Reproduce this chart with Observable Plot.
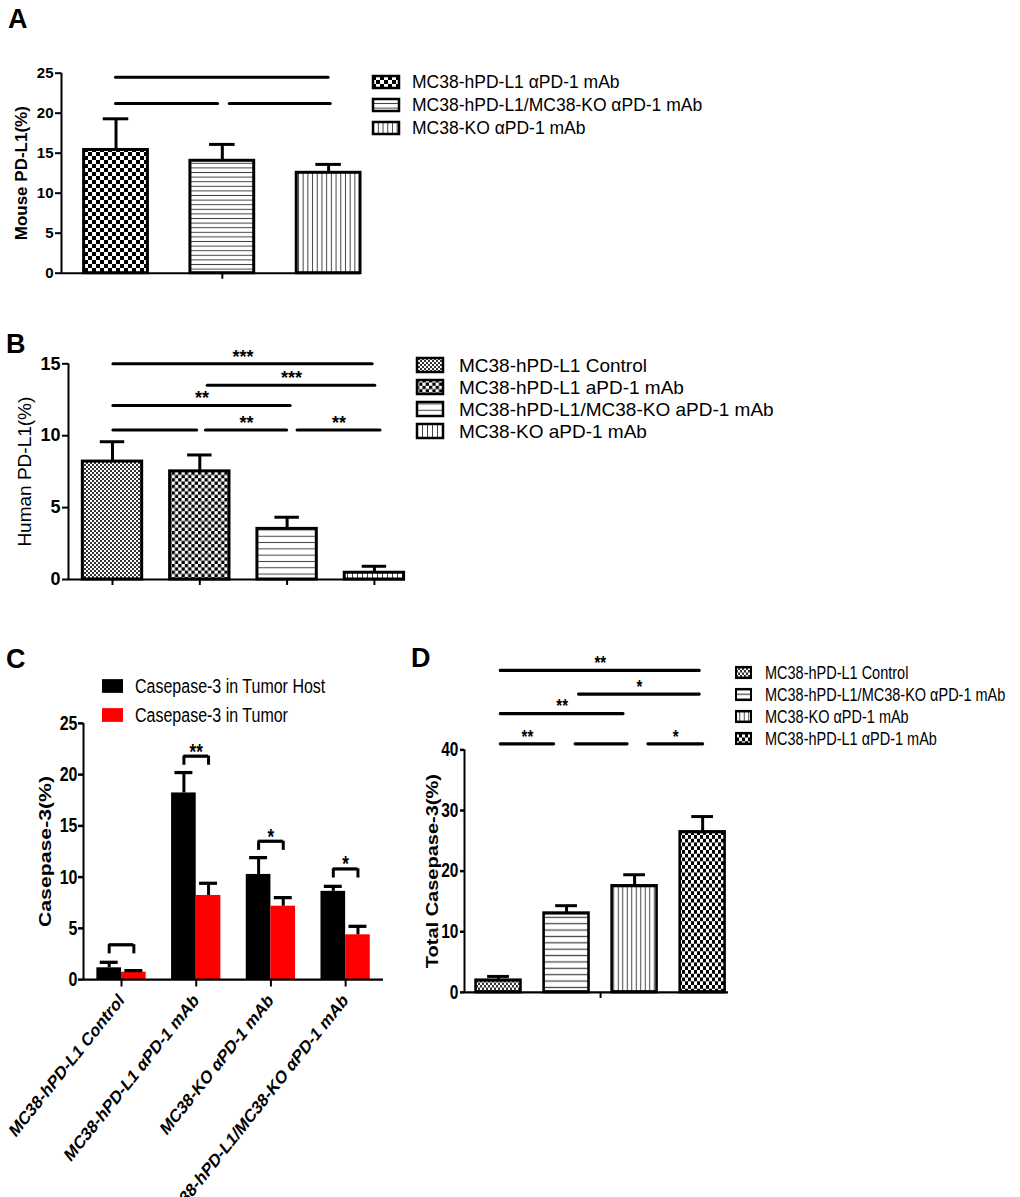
<!DOCTYPE html>
<html>
<head>
<meta charset="utf-8">
<script src="https://cdn.jsdelivr.net/npm/d3@7"></script>
<script src="https://cdn.jsdelivr.net/npm/@observablehq/plot@0.6"></script>
<style>
  html, body { margin: 0; padding: 0; background: #fff; }
  #fig { position: relative; width: 1020px; height: 1197px; overflow: hidden; background: #fff; }
</style>
</head>
<body>
<svg id="defs" width="0" height="0" style="position:absolute"><defs></defs></svg>
<div id="fig"></div>
<script>
// ================= DATA =================
// Panel A
const aGroups = ["MC38-hPD-L1 αPD-1 mAb", "MC38-hPD-L1/MC38-KO αPD-1 mAb", "MC38-KO αPD-1 mAb"];
const aMeans = [15.4, 14.05, 12.55];
const aErrors = [3.9, 2.05, 1.05];
const aYTicks = [0, 5, 10, 15, 20, 25];
const aSigFrom = [0, 0, 1];
const aSigTo = [2, 1, 2];
const aSigLevel = [24.5, 21.2, 21.2];
const aSigLabel = ["", "", ""];
const aYTitle = "Mouse PD-L1(%)";

// Panel B
const bGroups = ["MC38-hPD-L1 Control", "MC38-hPD-L1 aPD-1 mAb", "MC38-hPD-L1/MC38-KO aPD-1 mAb", "MC38-KO aPD-1 mAb"];
const bMeans = [8.2, 7.52, 3.52, 0.47];
const bErrors = [1.38, 1.14, 0.81, 0.45];
const bYTicks = [0, 5, 10, 15];
const bSigFrom = [0, 1, 0, 0, 1, 2];
const bSigTo = [3, 3, 2, 1, 2, 3];
const bSigLevel = [15, 13.5, 12.1, 10.4, 10.4, 10.4];
const bSigLabel = ["***", "***", "**", "", "**", "**"];
const bYTitle = "Human PD-L1(%)";

// Panel C
const cGroups = ["MC38-hPD-L1 Control", "MC38-hPD-L1 αPD-1 mAb", "MC38-KO αPD-1 mAb", "MC38-hPD-L1/MC38-KO αPD-1 mAb"];
const cSeries = ["Casepase-3 in Tumor Host", "Casepase-3 in Tumor"];
const cHost = [1.14, 18.2, 10.25, 8.6];
const cHostErr = [0.55, 2.0, 1.65, 0.5];
const cTumor = [0.71, 8.2, 7.15, 4.36];
const cTumorErr = [0.17, 1.2, 0.85, 0.84];
const cBracketTop = [3.4, 21.8, 13.5, 10.8];
const cBracketLabel = ["", "**", "*", "*"];
const cYTicks = [0, 5, 10, 15, 20, 25];
const cYTitle = "Casepase-3(%)";

// Panel D
const dGroups = ["MC38-hPD-L1 Control", "MC38-hPD-L1/MC38-KO αPD-1 mAb", "MC38-KO αPD-1 mAb", "MC38-hPD-L1 αPD-1 mAb"];
const dMeans = [1.93, 13.0, 17.5, 26.4];
const dErrors = [0.7, 1.3, 1.9, 2.6];
const dYTicks = [0, 10, 20, 30, 40];
const dSigFrom = [0, 1, 0, 0, 1, 2];
const dSigTo = [3, 3, 2, 1, 2, 3];
const dSigLevel = [53.1, 49.2, 46.0, 41.0, 41.0, 41.0];
const dSigLabel = ["**", "*", "**", "**", "", "*"];
const dYTitle = "Total Casepase-3(%)";

// ================= STYLE =================
const FONT = "'Liberation Sans', Arial, Helvetica, sans-serif";
const STRETCH = 1.25; // panels C and D are vertically stretched in the source figure

// patterns
const defs = d3.select("#defs defs");
function checker(id, c, col) {
  const p = defs.append("pattern").attr("id", id).attr("patternUnits", "userSpaceOnUse").attr("width", 2 * c).attr("height", 2 * c);
  p.append("rect").attr("width", 2 * c).attr("height", 2 * c).attr("fill", "#fff");
  p.append("rect").attr("width", c).attr("height", c).attr("fill", col);
  p.append("rect").attr("x", c).attr("y", c).attr("width", c).attr("height", c).attr("fill", col);
}
function hlines(id, period, col) {
  const p = defs.append("pattern").attr("id", id).attr("patternUnits", "userSpaceOnUse").attr("width", 10).attr("height", period);
  p.append("rect").attr("width", 10).attr("height", period).attr("fill", "#fff");
  p.append("rect").attr("y", period / 2 - 0.5).attr("width", 10).attr("height", 1).attr("fill", col);
}
function vlines(id, period, col) {
  const p = defs.append("pattern").attr("id", id).attr("patternUnits", "userSpaceOnUse").attr("width", period).attr("height", 10);
  p.append("rect").attr("width", period).attr("height", 10).attr("fill", "#fff");
  p.append("rect").attr("x", period / 2 - 0.5).attr("width", 1).attr("height", 10).attr("fill", col);
}
checker("chkA", 4, "#000");
checker("chkB", 3.3, "#000");
checker("chkD", 3, "#000");
checker("fineB", 2, "#333");
checker("fineD", 2, "#333");
hlines("hlA", 4.6, "#444");
hlines("hlB", 6.3, "#444");
hlines("hlD", 5.1, "#444");
vlines("vlA", 4.7, "#444");
vlines("vlB", 5, "#444");
vlines("vlD", 4.5, "#444");

const aFills = ["url(#chkA)", "url(#hlA)", "url(#vlA)"];
const bFills = ["url(#fineB)", "url(#chkB)", "url(#hlB)", "url(#vlB)"];
const dFills = ["url(#fineD)", "url(#hlD)", "url(#vlD)", "url(#chkD)"];
const cColors = ["#000000", "#ff0000"];

// line trims (layout) for the significance lines, in band units [start, end]
const aSigTrim = [[0, 0], [0, 0.04], [0.07, -0.02]];
const bSigTrim = [[0.01, 0.02], [0.09, -0.01], [0.01, -0.04], [0.01, 0.03], [0.07, 0], [0.12, -0.07]];
const dSigTrim = [[0.03, 0.04], [0.18, 0.04], [0.03, 0.16], [0.03, 0.18], [0.13, 0.1], [0.2, -0.01]];

const fig = document.getElementById("fig");

function place(svg, left, top, stretch) {
  svg.style.position = "absolute";
  svg.style.left = left + "px";
  svg.style.top = top + "px";
  svg.style.overflow = "visible";
  svg.style.maxWidth = "none";
  svg.style.background = "transparent";
  if (stretch) {
    const h = +svg.getAttribute("height");
    svg.setAttribute("height", h * stretch);
    svg.setAttribute("preserveAspectRatio", "none");
    svg.style.height = (h * stretch) + "px";
  } else {
    svg.style.height = svg.getAttribute("height") + "px";
  }
  fig.appendChild(svg);
}

function addLegend(svg, labels, fills, o) {
  const g = d3.select(svg).append("g")
    .attr("font-family", FONT).attr("font-size", o.fs).attr("font-weight", "normal")
    .attr("fill", "#000").attr("text-anchor", "start");
  labels.forEach((lab, k) => {
    const cy = o.y0 + k * o.dy;
    g.append("rect").attr("x", o.x).attr("y", cy - o.h / 2).attr("width", o.w).attr("height", o.h)
      .attr("fill", fills[k]).attr("stroke", o.sw ? "#000" : "none").attr("stroke-width", o.sw || 0);
    g.append("text").attr("x", o.tx).attr("y", cy).attr("dy", "0.35em").attr("text-anchor", "start").text(lab);
  });
}

function barPanel(c) {
  const rows = c.groups.map((g, i) => ({ i, g, v: c.means[i], e: c.errs[i], fill: c.fills[i] }));
  const sig = c.sigFrom.map((f, k) => ({
    x1: f + c.sigTrim[k][0], x2: c.sigTo[k] - c.sigTrim[k][1], y: c.sigLevel[k], label: c.sigLabel[k]
  }));
  return Plot.plot({
    width: c.width, height: c.height,
    marginLeft: c.ml, marginRight: c.mr, marginTop: c.mt, marginBottom: c.mb,
    x: { type: "linear", domain: c.xDomain, label: null },
    y: { domain: [0, c.yMax], label: null },
    color: { type: "identity" },
    style: { fontFamily: FONT, color: "#000", background: "transparent", overflow: "visible" },
    marks: [
      Plot.rect(rows, { x1: d => d.i - c.bw / 2, x2: d => d.i + c.bw / 2, y1: 0, y2: "v", fill: d => d.fill, stroke: "#000", strokeWidth: c.bsw }),
      Plot.ruleX(rows, { x: "i", y1: "v", y2: d => d.v + d.e, stroke: "#000", strokeWidth: c.esw }),
      Plot.ruleY(rows, { x1: d => d.i - c.cap, x2: d => d.i + c.cap, y: d => d.v + d.e, stroke: "#000", strokeWidth: c.csw }),
      Plot.ruleY(sig, { x1: "x1", x2: "x2", y: "y", stroke: "#000", strokeWidth: c.ssw, strokeLinecap: "round" }),
      Plot.text(sig.filter(d => d.label), { x: d => (d.x1 + d.x2) / 2, y: "y", text: "label", fontSize: c.starFs, fontWeight: "bold", dy: c.starDy }),
      Plot.ruleY([0], { stroke: "#000", strokeWidth: c.axw }),
      Plot.ruleX([c.xDomain[0]], { y1: 0, y2: c.yMax, stroke: "#000", strokeWidth: c.ayw }),
      Plot.axisY({ ticks: c.yTicks, tickSize: c.tick, tickPadding: c.tickPad, fontSize: c.tickFs, fontWeight: "bold", strokeWidth: c.ayw, label: null }),
      Plot.axisX({ ticks: c.xTicks, tickFormat: () => "", tickSize: c.xtick, strokeWidth: c.ayw, label: null }),
      Plot.text([c.title], { frameAnchor: "left", textAnchor: "middle", rotate: -90, dx: c.titleDx, text: d => d, fontSize: c.titleFs, fontWeight: c.titleW })
    ]
  });
}

// ---------- Panel A ----------
const svgA = barPanel({
  groups: aGroups, means: aMeans, errs: aErrors, fills: aFills,
  sigFrom: aSigFrom, sigTo: aSigTo, sigLevel: aSigLevel, sigLabel: aSigLabel, sigTrim: aSigTrim,
  width: 1020, height: 295, ml: 61, mr: 660, mt: 72.7, mb: 22.3,
  xDomain: [-0.513, 2.3], yMax: 25, yTicks: aYTicks, xTicks: [1],
  bw: 0.6, cap: 0.12, bsw: 3, esw: 3, csw: 3, ssw: 3, axw: 2, ayw: 2,
  tick: 6, tickPad: 2, xtick: 6, tickFs: 15, starFs: 18, starDy: -7,
  title: aYTitle, titleDx: -40, titleFs: 17, titleW: "bold"
});
addLegend(svgA, aGroups, aFills, { x: 373, w: 26, h: 12, sw: 2.5, tx: 412, y0: 82, dy: 23, fs: 17.5 });
place(svgA, 0, 0);

// ---------- Panel B ----------
const svgB = barPanel({
  groups: bGroups, means: bMeans, errs: bErrors, fills: bFills,
  sigFrom: bSigFrom, sigTo: bSigTo, sigLevel: bSigLevel, sigLabel: bSigLabel, sigTrim: bSigTrim,
  width: 1020, height: 300, ml: 68, mr: 615, mt: 63.3, mb: 21,
  xDomain: [-0.504, 3.356], yMax: 15, yTicks: bYTicks, xTicks: [0, 1, 2, 3],
  bw: 0.68, cap: 0.14, bsw: 3, esw: 3, csw: 3, ssw: 3, axw: 2, ayw: 2,
  tick: 6, tickPad: 2, xtick: 6, tickFs: 18, starFs: 18, starDy: -6.8,
  title: bYTitle, titleDx: -44, titleFs: 19, titleW: "normal"
});
addLegend(svgB, bGroups, bFills, { x: 417, w: 26, h: 14, sw: 2.5, tx: 459, y0: 65, dy: 22, fs: 19 });
place(svgB, 0, 300);

// ---------- Panel C (grouped) ----------
(function () {
  const bw = 0.33;
  const rows = [];
  cGroups.forEach((g, i) => {
    rows.push({ i, s: 0, v: cHost[i], e: cHostErr[i] });
    rows.push({ i, s: 1, v: cTumor[i], e: cTumorErr[i] });
  });
  const center = d => d.i + (d.s ? 0.5 : -0.5) * bw;
  const br = cGroups.map((g, i) => ({ i, top: cBracketTop[i], label: cBracketLabel[i] }));
  const drop = 0.9;
  const svg = Plot.plot({
    width: 400, height: 445.6,
    marginLeft: 83, marginRight: 17, marginTop: 66.2, marginBottom: 174.4,
    x: { type: "linear", domain: [-0.509, 3.507], label: null },
    y: { domain: [0, 25], label: null },
    color: { type: "identity" },
    style: { fontFamily: FONT, color: "#000", background: "transparent", overflow: "visible" },
    marks: [
      Plot.rect(rows, { x1: d => d.i + (d.s ? 0 : -bw), x2: d => d.i + (d.s ? bw : 0), y1: 0, y2: "v", fill: d => cColors[d.s] }),
      Plot.ruleX(rows, { x: center, y1: "v", y2: d => d.v + d.e, stroke: "#000", strokeWidth: 3 }),
      Plot.ruleY(rows, { x1: d => center(d) - 0.12, x2: d => center(d) + 0.12, y: d => d.v + d.e, stroke: "#000", strokeWidth: 2.6 }),
      Plot.ruleY(br, { x1: d => d.i - bw / 2, x2: d => d.i + bw / 2, y: "top", stroke: "#000", strokeWidth: 2.6 }),
      Plot.ruleX(br, { x: d => d.i - bw / 2, y1: d => d.top - drop, y2: "top", stroke: "#000", strokeWidth: 3 }),
      Plot.ruleX(br, { x: d => d.i + bw / 2, y1: d => d.top - drop, y2: "top", stroke: "#000", strokeWidth: 3 }),
      Plot.text(br.filter(d => d.label), { x: "i", y: "top", text: "label", fontSize: 17, fontWeight: "bold", dy: -3.5 }),
      Plot.ruleY([0], { stroke: "#000", strokeWidth: 1.8 }),
      Plot.ruleX([-0.509], { y1: 0, y2: 25, stroke: "#000", strokeWidth: 2 }),
      Plot.axisY({ ticks: cYTicks, tickSize: 5, tickPadding: 1, fontSize: 16, fontWeight: "bold", strokeWidth: 2, label: null }),
      Plot.axisX({ ticks: [0, 1, 2, 3], tickFormat: i => cGroups[i], tickRotate: -45, tickSize: 6, tickPadding: 8,
        fontSize: 15, fontWeight: "bold", strokeWidth: 2, label: null }),
      Plot.text([cYTitle], { frameAnchor: "left", textAnchor: "middle", rotate: -90, dx: -38, text: d => d, fontSize: 17, fontWeight: "bold" })
    ]
  });
  addLegend(svg, cSeries, cColors, { x: 102, w: 21, h: 11, sw: 0, tx: 135, y0: 36.8, dy: 23.2, fs: 16 });
  place(svg, 0, 640, STRETCH);
})();

// ---------- Panel D ----------
const svgD = barPanel({
  groups: dGroups, means: dMeans, errs: dErrors, fills: dFills,
  sigFrom: dSigFrom, sigTo: dSigTo, sigLevel: dSigLevel, sigLabel: dSigLabel, sigTrim: dSigTrim,
  width: 620, height: 445.6, ml: 64, mr: 292, mt: 87.4, mb: 164.2,
  xDomain: [-0.5, 3.38], yMax: 40, yTicks: dYTicks, xTicks: [1.5],
  bw: 0.66, cap: 0.16, bsw: 2.6, esw: 3, csw: 2.4, ssw: 2.6, axw: 1.8, ayw: 2,
  tick: 4, tickPad: 2, xtick: 5, tickFs: 15.5, starFs: 15, starDy: -5.8,
  title: dYTitle, titleDx: -31.5, titleFs: 16, titleW: "bold"
});
addLegend(svgD, dGroups, dFills, { x: 336, w: 15, h: 8.5, sw: 2, tx: 365, y0: 26, dy: 17.6, fs: 14.5 });
place(svgD, 400, 640, STRETCH);

// ---------- Panel letters ----------
const lt = d3.select(fig).append("svg")
  .attr("width", 1020).attr("height", 1197)
  .style("position", "absolute").style("left", 0).style("top", 0).style("pointer-events", "none")
  .attr("font-family", FONT).attr("font-weight", "bold").attr("font-size", 27);
[["A", 8, 28], ["B", 6, 353], ["C", 6, 668], ["D", 411, 667]].forEach(([t, x, y]) => {
  lt.append("text").attr("x", x).attr("y", y).text(t);
});
</script>
</body>
</html>
